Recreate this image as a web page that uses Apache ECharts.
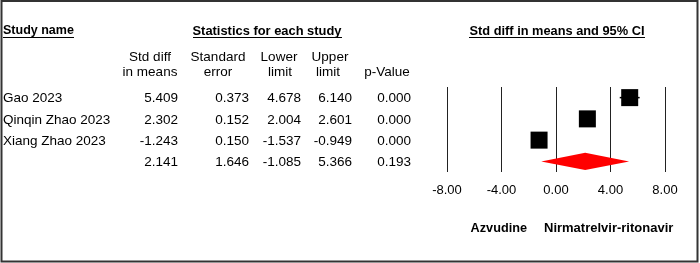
<!DOCTYPE html>
<html>
<head>
<meta charset="utf-8">
<script src="https://cdn.jsdelivr.net/npm/echarts@6/dist/echarts.min.js"></script>
<style>
  html, body { margin: 0; padding: 0; background: #fff; }
  #main { width: 700px; height: 263px; }
</style>
</head>
<body>
<div id="main"></div>
<script>
// study rows (last row = pooled estimate)
var studies = ['Gao 2023', 'Qinqin Zhao 2023', 'Xiang Zhao 2023', ''];
var stdDiff = [5.409, 2.302, -1.243, 2.141];
var stdErr = [0.373, 0.152, 0.150, 1.646];
var lower = [4.678, 2.004, -1.537, -1.085];
var upper = [6.140, 2.601, -0.949, 5.366];
var pValue = [0.000, 0.000, 0.000, 0.193];
var xTicks = [-8, -4, 0, 4, 8];

var FONT = '"Liberation Sans", Arial, sans-serif';
var pooled = studies.length - 1;

var myChart = echarts.init(document.getElementById('main'));

var cats = studies.map(function (s, i) { return String(i); });

var ciData = [], sqData = [];
for (var i = 0; i < pooled; i++) {
  ciData.push([lower[i], upper[i], i]);
  sqData.push([stdDiff[i], i]);
}

myChart.setOption({
  backgroundColor: '#fff',
  animation: false,
  grid: { left: 447, right: 35, top: 87, bottom: 91 },
  xAxis: {
    type: 'value',
    min: xTicks[0],
    max: xTicks[xTicks.length - 1],
    interval: 4,
    axisLine: { show: false },
    axisTick: { show: false },
    splitLine: { show: true, lineStyle: { color: '#222', width: 1 } },
    axisLabel: {
      margin: 12,
      fontFamily: FONT,
      fontSize: 13,
      color: '#000',
      formatter: function (v) { return v.toFixed(2); }
    }
  },
  yAxis: {
    type: 'category',
    data: cats,
    inverse: true,
    show: false
  },
  series: [{
    // confidence interval whiskers
    type: 'custom',
    data: ciData,
    renderItem: function (params, api) {
      var a = api.coord([api.value(0), api.value(2)]);
      var b = api.coord([api.value(1), api.value(2)]);
      return {
        type: 'line',
        shape: { x1: a[0], y1: a[1], x2: b[0], y2: b[1] },
        style: { stroke: '#000', lineWidth: 1.5 }
      };
    },
    z: 3
  }, {
    type: 'scatter',
    symbol: 'rect',
    symbolSize: 17,
    itemStyle: { color: '#000', opacity: 1 },
    data: sqData,
    z: 4
  }, {
    // pooled diamond
    type: 'custom',
    data: [[lower[pooled], stdDiff[pooled], upper[pooled], pooled]],
    renderItem: function (params, api) {
      var row = api.value(3);
      var l = api.coord([api.value(0), row]);
      var c = api.coord([api.value(1), row]);
      var r = api.coord([api.value(2), row]);
      var h = 8.7;
      return {
        type: 'polygon',
        shape: { points: [[l[0], c[1]], [c[0], c[1] - h], [r[0], c[1]], [c[0], c[1] + h]] },
        style: { fill: '#ff0000' }
      };
    },
    z: 4
  }]
});

// table text placed on the same rows as the plot
var g = [];
function txt(x, y, s, align, bold, size) {
  g.push({
    type: 'text', x: x, y: y, z: 10,
    style: {
      text: s, fill: '#000', align: align || 'left', verticalAlign: 'middle',
      font: (bold ? 'bold ' : '') + (size || 13.5) + 'px ' + FONT
    }
  });
}
function uline(x1, x2, y) {
  g.push({ type: 'line', z: 10, shape: { x1: x1, y1: y, x2: x2, y2: y }, style: { stroke: '#000', lineWidth: 1 } });
}

txt(3, 31, 'Study name', 'left', true, 12.5);
uline(3, 74, 37.5);
txt(267, 31, 'Statistics for each study', 'center', true, 12.9);
uline(193, 342, 37.5);
txt(557, 31, 'Std diff in means and 95% CI', 'center', true, 12.8);
uline(469, 645, 37.5);

txt(150, 57, 'Std diff', 'center');
txt(150, 72, 'in means', 'center');
txt(218, 57, 'Standard', 'center');
txt(218, 72, 'error', 'center');
txt(279, 57, 'Lower', 'center');
txt(280, 72, 'limit', 'center');
txt(330, 57, 'Upper', 'center');
txt(328, 72, 'limit', 'center');
txt(387, 72, 'p-Value', 'center');

var colX = [178, 249, 301, 352, 411];
for (var r = 0; r < studies.length; r++) {
  var y = myChart.convertToPixel({ yAxisIndex: 0 }, String(r)) + 1;
  txt(3, y, studies[r]);
  var vals = [stdDiff[r], stdErr[r], lower[r], upper[r], pValue[r]];
  for (var c = 0; c < vals.length; c++) {
    txt(colX[c], y, vals[c].toFixed(3), 'right');
  }
}

txt(527, 228, 'Azvudine', 'right', true, 12.7);
txt(544, 228, 'Nirmatrelvir-ritonavir', 'left', true, 13);

// outer frame
g.push({
  type: 'rect', z: 20,
  shape: { x: 1.5, y: 1, width: 696, height: 260.5 },
  style: { fill: null, stroke: '#333', lineWidth: 2 }
});

myChart.setOption({ graphic: g });

window.addEventListener('resize', function () { myChart.resize(); });
</script>
</body>
</html>
